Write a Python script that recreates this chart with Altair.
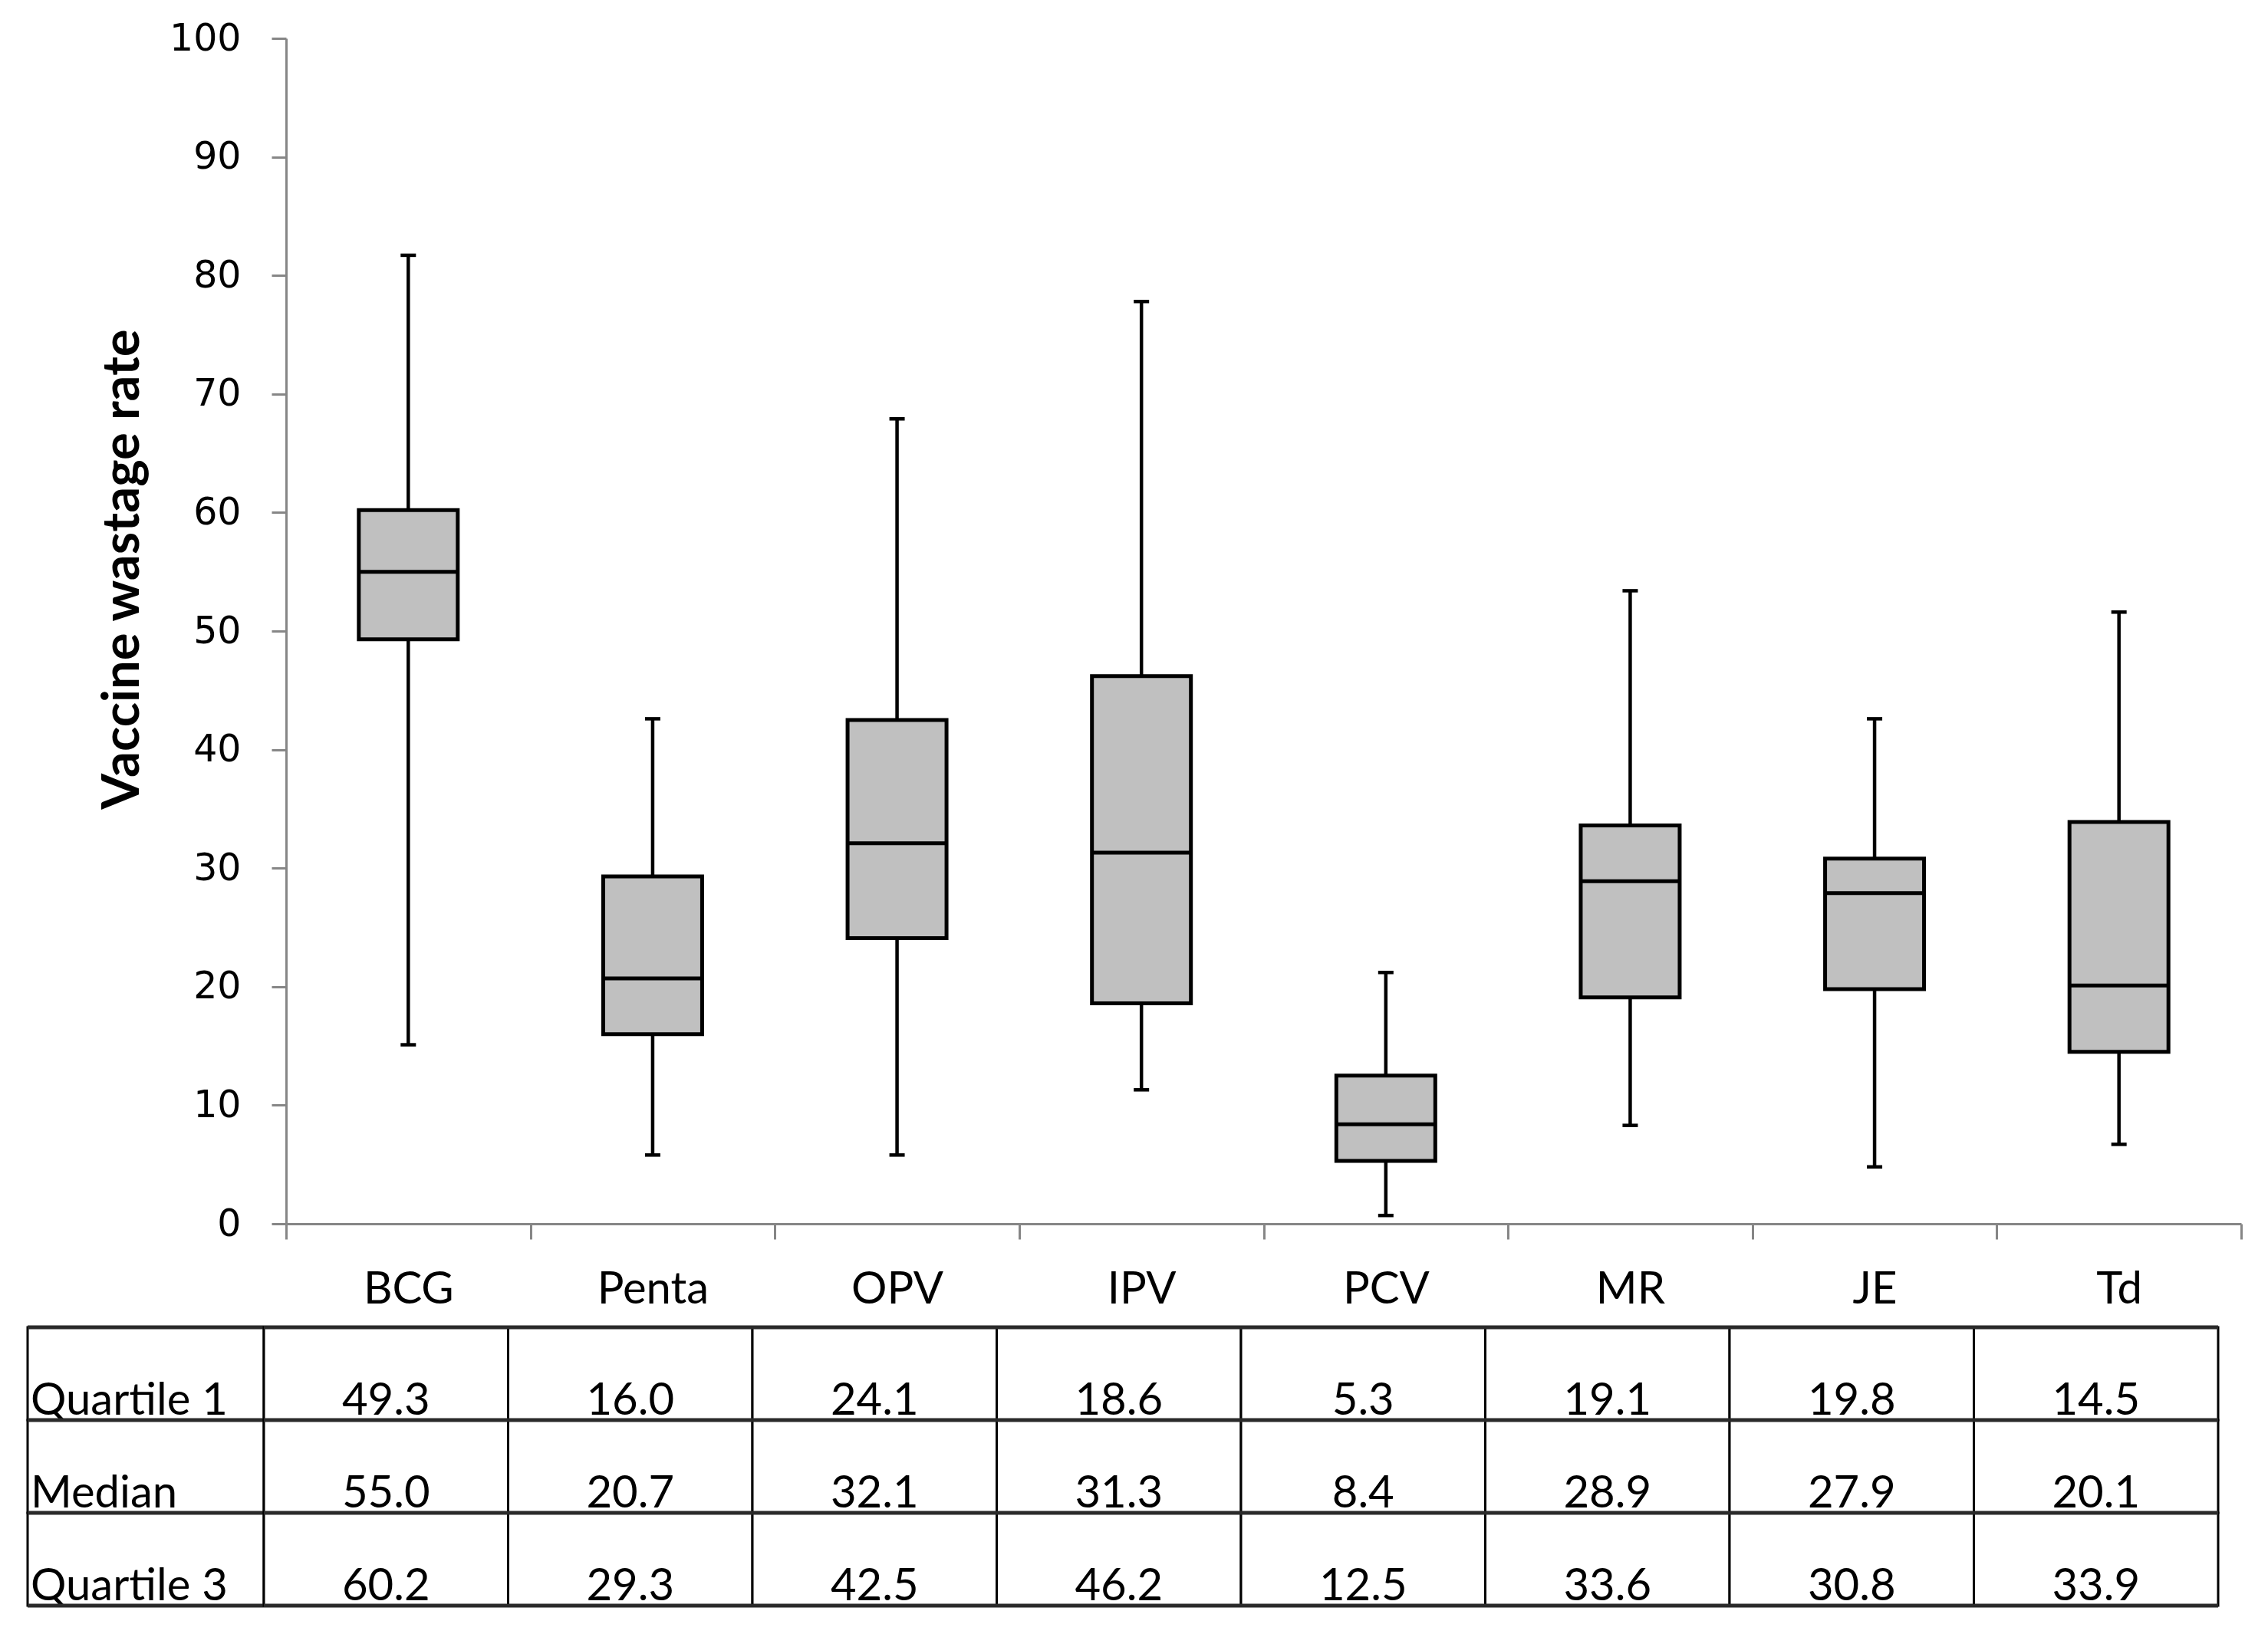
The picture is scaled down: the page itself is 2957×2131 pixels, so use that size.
import altair as alt
import pandas as pd

vaccines = ["BCG", "Penta", "OPV", "IPV", "PCV", "MR", "JE", "Td"]
whisker_low = [15.1, 5.8, 5.8, 11.3, 0.7, 8.3, 4.8, 6.7]
quartile1 = [49.3, 16.0, 24.1, 18.6, 5.3, 19.1, 19.8, 14.5]
median = [55.0, 20.7, 32.1, 31.3, 8.4, 28.9, 27.9, 20.1]
quartile3 = [60.2, 29.3, 42.5, 46.2, 12.5, 33.6, 30.8, 33.9]
whisker_high = [81.7, 42.6, 67.9, 77.8, 21.2, 53.4, 42.6, 51.6]
row_labels = ["Quartile 1", "Median", "Quartile 3"]
y_ticks = [0, 10, 20, 30, 40, 50, 60, 70, 80, 90, 100]

box_df = pd.DataFrame({
    "vaccine": vaccines, "lo": whisker_low, "q1": quartile1,
    "med": median, "q3": quartile3, "hi": whisker_high,
})
rows_df = pd.DataFrame({"row": row_labels})
table_df = pd.DataFrame([
    {"row": r, "vaccine": v, "value": val}
    for r, vals in zip(row_labels, [quartile1, median, quartile3])
    for v, val in zip(vaccines, vals)
])

AX = "#868686"
TITLE = "Vaccine wastage rate"
BOX_W = 2886
BOX_H = 1546

x_scale = alt.Scale(type="band", domain=vaccines, range=[337, BOX_W],
                    paddingInner=0, paddingOuter=0)
x_axis = alt.Axis(orient="bottom", domainColor=AX, domainWidth=3, tickColor=AX,
                  tickWidth=3, tickSize=20, tickBand="extent", labelFont="Lato",
                  labelFontSize=58, labelColor="#000000", labelPadding=37,
                  labelAngle=0, grid=False)
y_scale = alt.Scale(domain=[0, 100], nice=False, zero=True)
y_axis = alt.Axis(values=y_ticks, offset=-337, domainColor=AX, domainWidth=3,
                  tickColor=AX, tickWidth=3, tickSize=19, labelFont="DejaVu Sans",
                  labelFontSize=49, labelColor="#000000", labelPadding=40,
                  grid=False, titleFont="Lato", titleFontSize=67,
                  titleFontWeight="bold", titleColor="#000000", titleAngle=270,
                  titleBaseline="bottom", titleAlign="center",
                  titleX=-179, titleY=692)


def xenc():
    return alt.X("vaccine:N", sort=vaccines, scale=x_scale, axis=x_axis, title=None)


def yenc(field):
    return alt.Y(f"{field}:Q", scale=y_scale, axis=y_axis, title=TITLE)


base = alt.Chart(box_df)
whisker = base.mark_rule(color="black", strokeWidth=4.5).encode(
    x=xenc(), y=yenc("lo"), y2="hi:Q")
box = base.mark_bar(size=129, fill="#c0c0c0", stroke="black", strokeWidth=5).encode(
    x=xenc(), y=yenc("q1"), y2="q3:Q")
med = base.mark_tick(size=129, thickness=5, color="black", opacity=1).encode(
    x=xenc(), y=yenc("med"))
cap_lo = base.mark_tick(size=20, thickness=4.5, color="black", opacity=1).encode(
    x=xenc(), y=yenc("lo"))
cap_hi = base.mark_tick(size=20, thickness=4.5, color="black", opacity=1).encode(
    x=xenc(), y=yenc("hi"))

box_chart = alt.layer(whisker, box, med, cap_lo, cap_hi).properties(
    width=BOX_W, height=BOX_H)

# ---- table ----
row_scale = alt.Scale(domain=row_labels, paddingInner=0, paddingOuter=0)
TABLE_H = 363


def rowenc(band=None):
    if band is None:
        return alt.Y("row:N", sort=row_labels, scale=row_scale, axis=None, title=None)
    return alt.Y("row:N", sort=row_labels, scale=row_scale, axis=None, title=None,
                 bandPosition=band)


def hrules(df):
    top = alt.Chart(df).mark_rule(color="#2a2a2a", strokeWidth=5).encode(y=rowenc(0))
    bottom = alt.Chart(df).transform_filter(
        alt.datum.row == row_labels[-1]
    ).mark_rule(color="#2a2a2a", strokeWidth=5).encode(y=rowenc(1))
    return top, bottom


lab_rect = alt.Chart(rows_df).mark_rect(fill="white", stroke="black", strokeWidth=3).encode(
    y=rowenc())
lab_text = alt.Chart(rows_df).mark_text(
    align="left", baseline="alphabetic", dy=53, font="Lato", fontSize=58, color="black"
).encode(x=alt.value(4), y=rowenc(), text="row:N")
lt, lb = hrules(rows_df)
label_chart = alt.layer(lab_rect, lab_text, lt, lb).properties(width=308, height=TABLE_H)

tx_scale = alt.Scale(type="band", domain=vaccines, paddingInner=0, paddingOuter=0)


def txenc():
    return alt.X("vaccine:N", sort=vaccines, scale=tx_scale, axis=None, title=None)


val_rect = alt.Chart(table_df).mark_rect(fill="white", stroke="black", strokeWidth=3).encode(
    x=txenc(), y=rowenc())
val_text = alt.Chart(table_df).mark_text(
    align="center", baseline="alphabetic", dy=53, font="Lato", fontSize=58, color="black"
).encode(x=txenc(), y=rowenc(), text=alt.Text("value:Q", format=".1f"))
vt, vb = hrules(rows_df)
value_chart = alt.layer(val_rect, val_text, vt, vb).properties(width=2548, height=TABLE_H)

table = alt.hconcat(label_chart, value_chart, spacing=0, bounds="flush")

chart = alt.vconcat(box_chart, table, spacing=17).properties(
    padding={"left": 25, "top": 18, "right": 5, "bottom": 5},
    background="white",
).configure_view(stroke=None)

chart.save("out.html", embed_options={"renderer": "svg", "actions": False})
